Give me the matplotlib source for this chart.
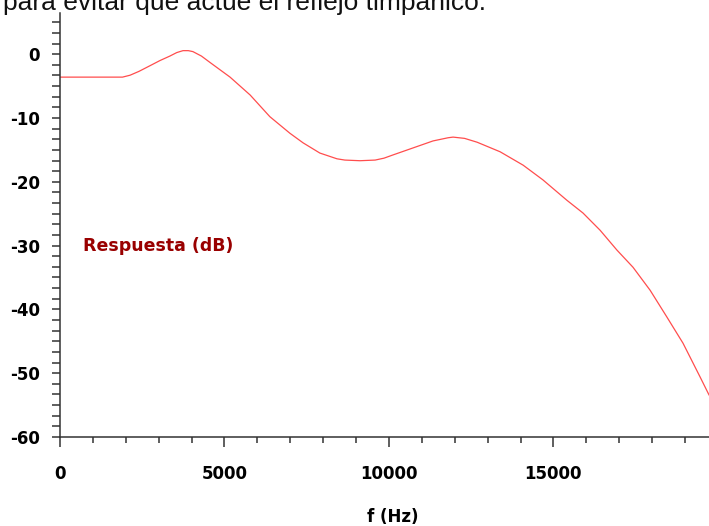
import matplotlib
matplotlib.use('Agg')
import matplotlib.pyplot as plt
from matplotlib.ticker import MultipleLocator, FixedLocator

### Data #######################################################################
freq_hz = [0, 1900, 2130, 2400, 2740, 3040, 3340, 3550, 3740, 3900, 4040,
           4300, 4560, 5170, 5780, 6380, 6990, 7390, 7900, 8420, 8660, 9120,
           9580, 9850, 10120, 10730, 11340, 11800, 11950, 12300, 12680, 13380,
           14080, 14680, 15410, 15900, 16420, 16930, 17420, 17940, 18450,
           18940, 19460, 19730]
response_db = [-3.6, -3.6, -3.3, -2.7, -1.8, -1.0, -0.3, 0.25, 0.55, 0.55,
               0.4, -0.3, -1.3, -3.6, -6.4, -9.8, -12.4, -13.9, -15.5, -16.4,
               -16.6, -16.7, -16.6, -16.3, -15.8, -14.7, -13.6, -13.1, -13.0,
               -13.2, -13.8, -15.3, -17.4, -19.7, -22.9, -24.9, -27.6, -30.7,
               -33.4, -37.0, -41.2, -45.3, -50.6, -53.4]
x_major = [0, 5000, 10000, 15000]
y_major = [0, -10, -20, -30, -40, -50, -60]
caption = 'para evitar que actúe el reflejo timpánico.'
series_label = 'Respuesta (dB)'
x_title = 'f (Hz)'
################################################################################

plt.rcParams['axes.unicode_minus'] = False
plt.rcParams['font.family'] = ['DejaVu Sans']

W, H = 709, 526
fig = plt.figure(figsize=(W / 100, H / 100), dpi=100)
ax = fig.add_axes([60 / W, 1 - 437 / H, 649 / W, 424 / H])

ax.plot(freq_hz, response_db, color='#ff4d4d', linewidth=0.9)

ax.set_xlim(0, 19730)
ax.set_ylim(-60, 6.45)

for side in ['top', 'right']:
    ax.spines[side].set_visible(False)
for side in ['left', 'bottom']:
    ax.spines[side].set_color('#333333')
    ax.spines[side].set_linewidth(1.1)

ax.xaxis.set_major_locator(FixedLocator(x_major))
ax.xaxis.set_minor_locator(MultipleLocator(1000))
ax.yaxis.set_major_locator(FixedLocator(y_major))
ax.yaxis.set_minor_locator(MultipleLocator(10 / 6))

ax.tick_params(axis='x', which='major', length=7.2, width=1.1, color='#333333',
               pad=13, labelsize=12)
ax.tick_params(axis='x', which='minor', length=4.3, width=1.1, color='#333333')
ax.tick_params(axis='y', which='both', length=5.5, width=1.1, color='#333333',
               pad=9, labelsize=12)
for lab in ax.get_xticklabels() + ax.get_yticklabels():
    lab.set_fontweight('bold')

ax.set_xlabel(x_title, fontsize=12, fontweight='bold')
ax.xaxis.set_label_coords((393 - 60) / 649, -(517 - 437) / 424)
ax.xaxis.label.set_va('center')

ax.text(83 / W, 1 - 246 / H, series_label, transform=fig.transFigure,
        color='#990000', fontsize=12.5, fontweight='bold', va='center', ha='left')

# caption sits half outside the top edge, as in the cropped reference
fig.text(3 / W, 1 - 10 / H, caption, fontsize=19, family='Liberation Sans',
         color='#111111', va='baseline', ha='left')

fig.savefig('out.png', dpi=100)
